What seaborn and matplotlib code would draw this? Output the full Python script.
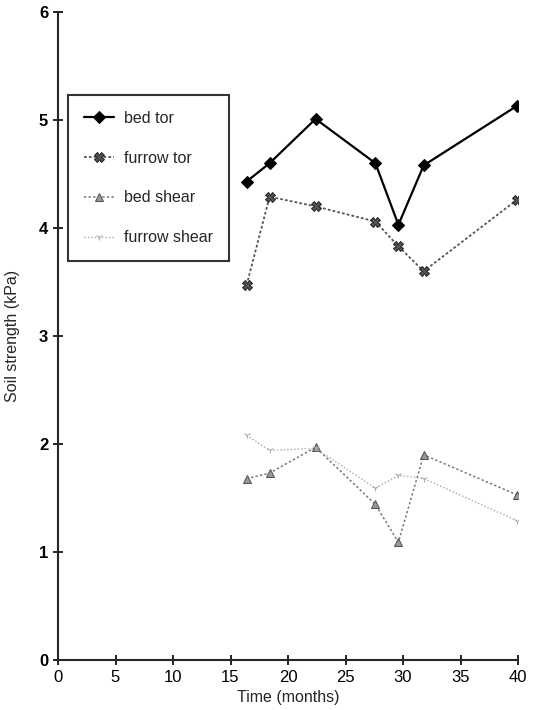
import numpy as np
import pandas as pd
import matplotlib
matplotlib.use('Agg')
import matplotlib.pyplot as plt
import seaborn as sns

# months of sampling
months = [16.4, 18.4, 22.4, 27.6, 29.6, 31.8, 39.9]

bed_tor = [4.43, 4.60, 5.01, 4.60, 4.03, 4.58, 5.13]
furrow_tor = [3.47, 4.29, 4.20, 4.06, 3.83, 3.60, 4.26]
bed_shear = [1.68, 1.73, 1.97, 1.44, 1.09, 1.90, 1.53]
furrow_shear = [2.08, 1.94, 1.96, 1.59, 1.71, 1.68, 1.29]

sns.set_style('ticks')
plt.rcParams['font.family'] = ['Liberation Sans', 'DejaVu Sans']

fig = plt.figure(figsize=(5.35, 7.10), dpi=100)
ax = fig.add_axes([58 / 535, 1 - 660 / 710, 460 / 535, 648 / 710])

# bed tor - solid black with diamonds
sns.lineplot(x=months, y=bed_tor, ax=ax, color='black', lw=1.6,
             marker='D', markersize=6, markeredgecolor='black', label='bed tor')
# furrow tor - dotted dark grey
sns.lineplot(x=months, y=furrow_tor, ax=ax, color='#555555', lw=1.3,
             linestyle=(0, (1.5, 1.2)), marker='X', markersize=7,
             markerfacecolor='#555555', markeredgecolor='#222222', label='furrow tor')
# bed shear - dotted grey
sns.lineplot(x=months, y=bed_shear, ax=ax, color='#777777', lw=1.1,
             linestyle=(0, (1.5, 1.5)), marker='^', markersize=6,
             markerfacecolor='#999999', markeredgecolor='#555555', label='bed shear')
# furrow shear - faint dotted
sns.lineplot(x=months, y=furrow_shear, ax=ax, color='#aaaaaa', lw=1.0,
             linestyle=(0, (1, 1.5)), marker='1', markersize=5,
             markeredgecolor='#aaaaaa', label='furrow shear')

ax.set_xlim(0, 40)
ax.set_ylim(0, 6)
ax.set_xticks(np.arange(0, 41, 5))
ax.set_yticks(np.arange(0, 7, 1))
sns.despine(ax=ax)
ax.spines['left'].set_linewidth(1.5)
ax.spines['bottom'].set_linewidth(1.5)
ax.tick_params(direction='inout', length=7, width=1.2, labelsize=12, colors='black')
for lab in ax.get_yticklabels():
    lab.set_fontweight('bold')

ax.set_xlabel('Time (months)', fontsize=11.5)
ax.set_ylabel('Soil strength (kPa)', fontsize=11.5, labelpad=14)

leg = ax.legend(loc='upper left', bbox_to_anchor=(10 / 460, 1 - 83 / 648),
                frameon=True, fancybox=False, edgecolor='black', fontsize=11.5,
                handlelength=1.9, handletextpad=0.6, labelspacing=1.55,
                borderpad=1.0, borderaxespad=0)
leg.get_frame().set_linewidth(1.5)

fig.savefig('out.png', dpi=100)
